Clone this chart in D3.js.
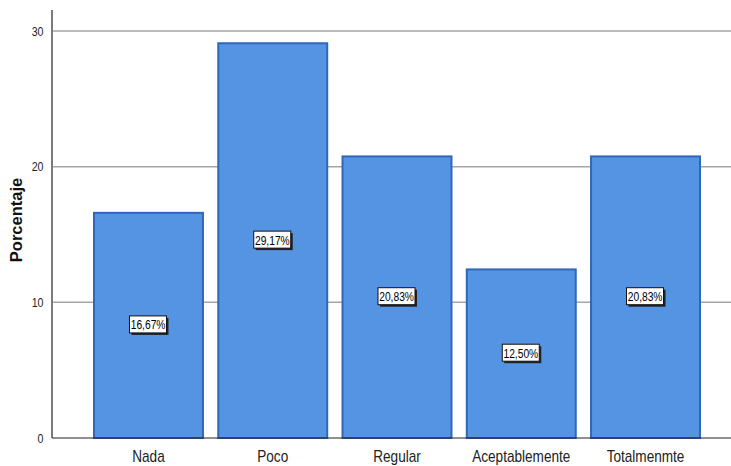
<!DOCTYPE html>
<html><head><meta charset="utf-8">
<script src="https://cdn.jsdelivr.net/npm/d3@7"></script>
<style>body{margin:0;background:#fff}svg{display:block}</style>
</head><body>
<svg id="c" width="731" height="466"></svg>
<script>
const categories = ["Nada","Poco","Regular","Aceptablemente","Totalmenmte"];
const values = [16.67, 29.17, 20.83, 12.50, 20.83];
const valueLabels = ["16,67%","29,17%","20,83%","12,50%","20,83%"];
const yTicks = [0,10,20,30];

const svg = d3.select("#c");
const font = "Arial,'Liberation Sans',sans-serif";
const x = d3.scaleBand().domain(categories).range([52,742]).paddingInner(0.107).paddingOuter(0.33);
const y = d3.scaleLinear().domain([0,30]).range([438,31]);

// gridlines
svg.append("g").selectAll("line").data(yTicks.filter(d=>d>0)).join("line")
  .attr("x1",53).attr("x2",731).attr("y1",d=>y(d)).attr("y2",d=>y(d))
  .attr("stroke","#a6a6a6").attr("stroke-width",1.5);

// bars
svg.append("g").selectAll("rect").data(categories).join("rect")
  .attr("x",(d)=>x(d)+1).attr("width",x.bandwidth()-2)
  .attr("y",(d,i)=>y(values[i])+1).attr("height",(d,i)=>y(0)-y(values[i])-1)
  .attr("fill","#5594e3").attr("stroke","#2f68b8").attr("stroke-width",2);

// axes
const yAxis = d3.axisLeft(y).tickValues(yTicks).tickSize(0).tickPadding(10);
const gy = svg.append("g").attr("transform","translate(52,0)").call(yAxis);
gy.select(".domain").attr("d","M0,10V438").attr("stroke","#222").attr("stroke-width",1.2);
gy.selectAll("text").attr("font-family",font).attr("font-size",12.5).attr("fill","#222")
  .attr("transform","scale(0.85,1)");

const xAxis = d3.axisBottom(x).tickSize(0).tickPadding(13);
const gx = svg.append("g").attr("transform","translate(0,438)").call(xAxis);
gx.select(".domain").attr("d","M52,0H731").attr("stroke","#222").attr("stroke-width",1.2);
gx.selectAll("text").attr("font-family",font).attr("font-size",16).attr("fill","#222")
  .attr("transform","scale(0.85,1)");

// y title
svg.append("text").attr("transform","translate(22,220) rotate(-90)")
  .attr("text-anchor","middle").attr("font-family",font)
  .attr("font-weight","bold").attr("font-size",16.5).attr("fill","#111").text("Porcentaje");

// value labels
const lg = svg.append("g").selectAll("g").data(categories).join("g")
  .attr("transform",(d,i)=>`translate(${x(d)+x.bandwidth()/2},${y(values[i]/2)})`);
lg.append("rect").attr("x",-17).attr("y",-7).attr("width",37).attr("height",17).attr("fill","#222");
lg.append("rect").attr("x",-19).attr("y",-9).attr("width",37).attr("height",17)
  .attr("fill","#fff").attr("stroke","#111").attr("stroke-width",1);
lg.append("text").attr("text-anchor","middle").attr("y",4.5).attr("x",-0.5)
  .attr("font-family",font).attr("font-size",12.5).attr("fill","#000")
  .attr("transform","scale(0.82,1)")
  .text((d,i)=>valueLabels[i]);
</script>
</body></html>
